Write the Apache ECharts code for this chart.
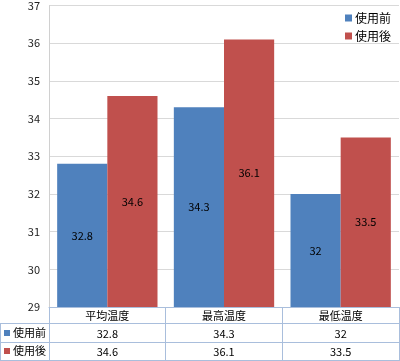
<!DOCTYPE html>
<html><head><meta charset="utf-8">
<script src="https://cdn.jsdelivr.net/npm/echarts@6/dist/echarts.min.js"></script>
<style>html,body{margin:0;padding:0;background:#fff}#c{width:400px;height:361px}</style>
</head><body><div id="c"></div>
<script>
const categories = ['平均温度', '最高温度', '最低温度'];
const seriesNames = ['使用前', '使用後'];
const before = [32.8, 34.3, 32];
const after = [34.6, 36.1, 33.5];
const yTicks = [29, 30, 31, 32, 33, 34, 35, 36, 37];

const FONT = '"Noto Sans CJK JP", sans-serif';
const BLUE = '#4F81BD', RED = '#C0504D', TBL = '#a9bedc';
const chart = echarts.init(document.getElementById('c'));
chart.setOption({
  animation: false,
  textStyle: { fontFamily: FONT },
  grid: { left: 49, right: 1, top: 4, bottom: 54 },
  legend: {
    data: seriesNames, orient: 'vertical', right: 4, top: 7,
    icon: 'rect', itemWidth: 7, itemHeight: 7, itemGap: 6,
    textStyle: { fontSize: 12, color: '#000', fontFamily: FONT, padding: [0, 0, 0, -2] }
  },
  xAxis: {
    type: 'category', data: categories,
    axisLine: { lineStyle: { color: TBL } },
    axisTick: { show: true, length: 54, lineStyle: { color: TBL } },
    axisLabel: {
      margin: 0, interval: 0,
      formatter: (v, i) => `{h|${v}}\n{v|${before[i]}}\n{v|${after[i]}}`,
      rich: {
        h: { fontSize: 11, lineHeight: 18, color: '#000', fontFamily: FONT },
        v: { fontSize: 11, lineHeight: 18, color: '#000', fontFamily: FONT }
      }
    }
  },
  yAxis: {
    type: 'value', min: yTicks[0], max: yTicks[yTicks.length - 1], interval: 1,
    axisLine: { show: true, lineStyle: { color: '#d0d0d0' } },
    axisTick: { show: false },
    splitLine: { lineStyle: { color: '#d9d9d9' } },
    axisLabel: { fontSize: 11, color: '#222', margin: 9, fontFamily: FONT }
  },
  series: [
    { name: seriesNames[0], type: 'bar', data: before, barCategoryGap: '14%', barGap: '0%',
      itemStyle: { color: BLUE },
      label: { show: true, position: 'inside', color: '#000', fontSize: 11, fontFamily: FONT } },
    { name: seriesNames[1], type: 'bar', data: after, barCategoryGap: '14%', barGap: '0%',
      itemStyle: { color: RED },
      label: { show: true, position: 'inside', color: '#000', fontSize: 11, fontFamily: FONT } }
  ],
  graphic: [
    { type: 'line', shape: { x1: 0, y1: 323.5, x2: 399, y2: 323.5 }, style: { stroke: TBL } },
    { type: 'line', shape: { x1: 0, y1: 342.5, x2: 399, y2: 342.5 }, style: { stroke: TBL } },
    { type: 'line', shape: { x1: 0, y1: 360.5, x2: 399, y2: 360.5 }, style: { stroke: TBL } },
    { type: 'line', shape: { x1: 0.5, y1: 323, x2: 0.5, y2: 361 }, style: { stroke: TBL } },
    { type: 'rect', shape: { x: 4, y: 330, width: 6, height: 6 }, style: { fill: BLUE } },
    { type: 'text', x: 13, y: 333, style: { text: seriesNames[0], fontSize: 11, fill: '#000', fontFamily: FONT, verticalAlign: 'middle' } },
    { type: 'rect', shape: { x: 4, y: 348, width: 6, height: 6 }, style: { fill: RED } },
    { type: 'text', x: 13, y: 351, style: { text: seriesNames[1], fontSize: 11, fill: '#000', fontFamily: FONT, verticalAlign: 'middle' } }
  ]
});
</script></body></html>
